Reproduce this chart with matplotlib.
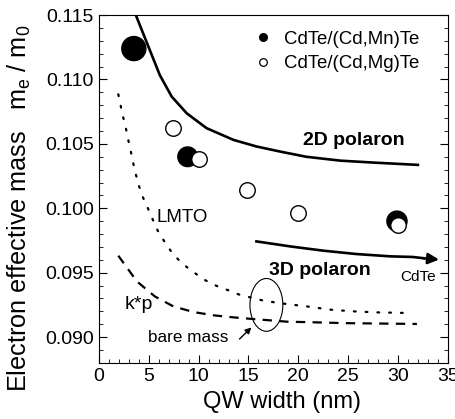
import matplotlib

matplotlib.use("Agg")

import matplotlib.pyplot as plt
from matplotlib.lines import Line2D
from matplotlib.patches import Ellipse
from matplotlib.ticker import MultipleLocator

plt.rcParams["font.family"] = ["Liberation Sans", "DejaVu Sans"]
plt.rcParams["mathtext.fontset"] = "custom"
plt.rcParams["mathtext.rm"] = "Liberation Sans"

# measured points
mn_width = [3.5, 8.9, 29.9]
mn_mass = [0.1124, 0.1040, 0.0990]
mn_size = [300, 200, 210]
mg_width = [7.4, 10.0, 14.9, 20.0, 30.0]
mg_mass = [0.1062, 0.1038, 0.1014, 0.0996, 0.0987]

# model curves
pol2d_width = [3.7, 5.1, 6.1, 7.3, 8.8, 10.8, 13.5, 15.8, 18.2, 20.8, 24.2, 27.5, 32.0]
pol2d_mass = [0.1150, 0.11229, 0.11035, 0.10867, 0.10738, 0.10622, 0.10531, 0.1048,
              0.1044, 0.1040, 0.1037, 0.10355, 0.10337]
pol3d_width = [15.8, 19.2, 22.5, 25.8, 29.2, 31.5, 32.6]
pol3d_mass = [0.09743, 0.09704, 0.09671, 0.09645, 0.09627, 0.09622, 0.09612]
lmto_width = [1.94, 2.2, 2.44, 2.7, 2.94, 3.2, 3.44, 3.7, 4.0, 4.4, 4.9, 5.4, 5.9, 6.6,
              7.4, 8.4, 9.6, 10.7, 11.9, 13.0, 14.1, 16.4, 17.6, 18.8, 20.8, 23.2, 25.5,
              27.8, 31.2]
lmto_mass = [0.10885, 0.10789, 0.10704, 0.10622, 0.10531, 0.1044, 0.1035, 0.10264,
             0.10177, 0.10087, 0.10002, 0.09912, 0.09826, 0.09738, 0.09647, 0.09568,
             0.09498, 0.0944, 0.09394, 0.09363, 0.09329, 0.09285, 0.0927, 0.09257,
             0.09239, 0.09213, 0.092, 0.09192, 0.09187]
kp_width = [1.94, 3.8, 5.6, 7.45, 9.45, 11.5, 13.5, 15.5, 18.8, 25.0, 31.9]
kp_mass = [0.09632, 0.09433, 0.09316, 0.09239, 0.09195, 0.09169, 0.09153, 0.0914,
           0.0912, 0.09108, 0.09102]

fig = plt.figure(figsize=(4.56, 4.19), dpi=100)
ax = fig.add_axes([0.217, 0.134, 0.765, 0.830])

ax.plot(pol2d_width, pol2d_mass, color="black", lw=1.9, solid_joinstyle="round")
ax.plot(pol3d_width, pol3d_mass, color="black", lw=1.9, solid_joinstyle="round")
ax.annotate("", xy=(34.4, 0.0960), xytext=(32.3, 0.09614),
            arrowprops=dict(arrowstyle="-|>", color="black", lw=1.9, mutation_scale=16))
ax.plot(lmto_width, lmto_mass, color="black", lw=1.6, linestyle=(0, (0.8, 4.5)),
        dash_capstyle="round")
ax.plot(kp_width, kp_mass, color="black", lw=1.6, linestyle=(0, (4.2, 3.3)))

ax.scatter(mn_width, mn_mass, s=mn_size, color="black", zorder=3)
ax.scatter(mg_width, mg_mass, s=125, facecolor="white", edgecolor="black", lw=1.0, zorder=4)

ax.add_patch(Ellipse((16.8, 0.0925), 3.3, 0.0041, fill=False, color="black", lw=0.8))
ax.annotate("", xy=(15.5, 0.0909), xytext=(13.9, 0.0897),
            arrowprops=dict(arrowstyle="-|>", color="black", lw=1.0, mutation_scale=9))

ax.text(20.5, 0.1053, "2D polaron", fontsize=14, fontweight="bold", va="center")
ax.text(17.1, 0.0952, "3D polaron", fontsize=14, fontweight="bold", va="center")
ax.text(30.2, 0.0947, "CdTe", fontsize=11, va="center")
ax.text(5.8, 0.0993, "LMTO", fontsize=13.5, va="center")
ax.text(2.6, 0.0925, "k*p", fontsize=14, va="center")
ax.text(4.9, 0.0900, "bare mass", fontsize=12.3, va="center")

handles = [
    Line2D([], [], marker="o", color="black", linestyle="none", markersize=5.5),
    Line2D([], [], marker="o", markerfacecolor="white", markeredgecolor="black",
           linestyle="none", markersize=5.5, markeredgewidth=0.9),
]
ax.legend(handles, ["CdTe/(Cd,Mn)Te", "CdTe/(Cd,Mg)Te"], loc="upper left",
          bbox_to_anchor=(0.444, 0.955), frameon=False, fontsize=13.4,
          handletextpad=0.6, borderaxespad=0, borderpad=0,
          labelspacing=0.4, handlelength=1.0)

ax.set_xlim(0, 35)
ax.set_ylim(0.088, 0.115)
ax.xaxis.set_major_locator(MultipleLocator(5))
ax.xaxis.set_minor_locator(MultipleLocator(1))
ax.yaxis.set_major_locator(MultipleLocator(0.005))
ax.yaxis.set_minor_locator(MultipleLocator(0.001))
ax.yaxis.set_major_formatter(lambda v, pos: f"{v:.3f}")
ax.tick_params(which="both", direction="in", right=True, labelsize=14)
ax.tick_params(which="major", length=6)
ax.tick_params(which="minor", length=3)

ax.set_xlabel("QW width (nm)", fontsize=17)
ax.xaxis.set_label_coords(0.524, -0.082)
ax.set_ylabel(r"Electron effective mass   m$_\mathregular{e}$ / m$_\mathregular{0}$",
              fontsize=18.2)
ax.yaxis.set_label_coords(-0.188, 0.445)

fig.savefig("out.png", dpi=100)
